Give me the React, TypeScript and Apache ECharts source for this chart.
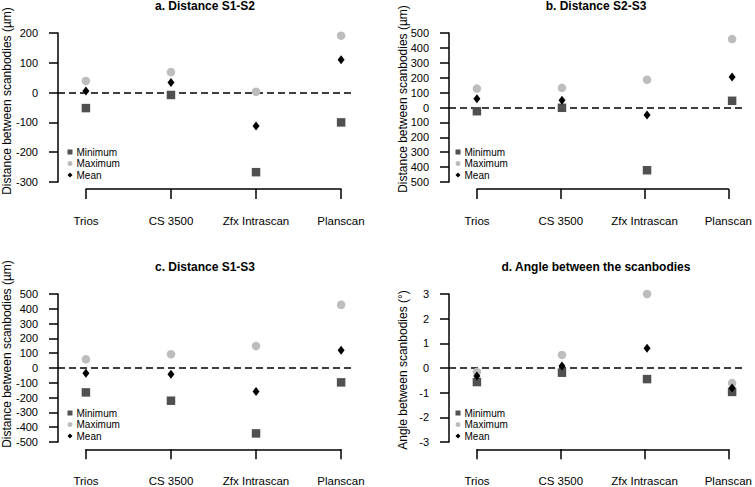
import React, { useEffect, useRef } from "react";
import * as echarts from "echarts";

const categories = ["Trios", "CS 3500", "Zfx Intrascan", "Planscan"];

const s12Min = [-52, -8, -267, -100];
const s12Max = [39, 69, 3, 191];
const s12Mean = [5, 34, -112, 110];

const s23Min = [-25, -2, -421, 45];
const s23Max = [127, 132, 186, 459];
const s23Mean = [58, 49, -51, 204];

const s13Min = [-165, -221, -442, -97];
const s13Max = [59, 93, 149, 427];
const s13Mean = [-36, -43, -158, 120];

const angMin = [-0.57, -0.19, -0.45, -0.97];
const angMax = [-0.16, 0.53, 3.0, -0.61];
const angMean = [-0.32, 0.08, 0.8, -0.81];

const panelTitles = [
  "a. Distance S1-S2",
  "b. Distance S2-S3",
  "c. Distance S1-S3",
  "d. Angle between the scanbodies",
];
const yTitles = [
  "Distance between scanbodies (µm)",
  "Distance between scanbodies (µm)",
  "Distance between scanbodies (µm)",
  "Angle between scanbodies (°)",
];
const yRanges = [
  { min: -300, max: 200, interval: 100 },
  { min: -500, max: 500, interval: 100 },
  { min: -500, max: 500, interval: 100 },
  { min: -3, max: 3, interval: 1 },
];
const legendNames = ["Minimum", "Maximum", "Mean"];

const FONT = '"Liberation Sans", Arial, sans-serif';

export default function App() {
  const ref = useRef<HTMLDivElement>(null);
  useEffect(() => {
    if (!ref.current) return;
    const chart = echarts.init(ref.current, null, { renderer: "svg" });
    const data = [
      [s12Min, s12Max, s12Mean],
      [s23Min, s23Max, s23Mean],
      [s13Min, s13Max, s13Mean],
      [angMin, angMax, angMean],
    ];
    const layout = [
      { left: 58, top: 33, h: 149, axisY: 189, cat1: 86, titleX: 205, titleY: 6, ytX: 7, ytY: 101, legX: 67.5, legY: 147 },
      { left: 449, top: 33, h: 149, axisY: 189, cat1: 477, titleX: 596, titleY: 6, ytX: 403, ytY: 99, legX: 455.5, legY: 147 },
      { left: 58, top: 294, h: 148, axisY: 450, cat1: 86, titleX: 205, titleY: 267, ytX: 7, ytY: 354, legX: 67.5, legY: 408 },
      { left: 449, top: 294, h: 148, axisY: 450, cat1: 477, titleX: 596, titleY: 267, ytX: 403, ytY: 370, legX: 455.5, legY: 408 },
    ];
    const grid: any[] = [];
    const xAxis: any[] = [];
    const yAxis: any[] = [];
    const series: any[] = [];
    const legend: any[] = [];
    const graphic: any[] = [];
    const colors = ["#505050", "#bdbdbd", "#000000"];
    const symbols = ["rect", "circle", "diamond"];
    const sizes: any[] = [8.5, 8.5, [7, 9]];

    layout.forEach((L, i) => {
      grid.push({ left: L.left, top: L.top, width: 294, height: L.h });
      xAxis.push({
        gridIndex: i,
        type: "value",
        min: 0.672,
        max: 4.128,
        show: false,
      });
      const r = yRanges[i];
      yAxis.push({
        gridIndex: i,
        type: "value",
        min: r.min,
        max: r.max,
        interval: r.interval,
        axisLine: { show: true, lineStyle: { color: "#000", width: 1.5 } },
        axisTick: { show: true, length: 9, lineStyle: { color: "#000", width: 1.5 } },
        axisLabel: {
          margin: 20,
          fontSize: 11,
          color: "#000",
          fontFamily: FONT,
          formatter: (v: number) => (i === 1 ? String(Math.abs(v)) : String(v)),
        },
        splitLine: { show: false },
      });
      data[i].forEach((arr, k) => {
        const s: any = {
          name: legendNames[k],
          type: "scatter",
          xAxisIndex: i,
          yAxisIndex: i,
          symbol: symbols[k],
          symbolSize: sizes[k],
          itemStyle: { color: colors[k], opacity: 1 },
          clip: false,
          data: arr.map((v, j) => [j + 1, v]),
          z: 3 + k,
        };
        if (k === 0) {
          s.markLine = {
            silent: true,
            symbol: "none",
            label: { show: false },
            lineStyle: { type: [7, 4], color: "#000", width: 1.5 },
            data: [{ yAxis: 0 }],
            z: 2,
          };
        }
        series.push(s);
      });
      legend.push({
        orient: "vertical",
        left: L.legX,
        top: L.legY,
        padding: 0,
        itemWidth: 5,
        itemHeight: 5,
        itemGap: 1.5,
        selectedMode: false,
        data: legendNames,
        textStyle: { fontSize: 10, lineHeight: 10, color: "#000", fontFamily: FONT, padding: [0, 0, 0, -1] },
      });
      graphic.push({
        type: "text",
        x: L.titleX,
        y: L.titleY,
        style: {
          text: panelTitles[i],
          font: `bold 12px ${FONT}`,
          fill: "#000",
          align: "center",
          verticalAlign: "middle",
          textAlign: "center",
          textVerticalAlign: "middle",
        },
      });
      graphic.push({
        type: "text",
        x: L.ytX,
        y: L.ytY,
        rotation: Math.PI / 2,
        style: {
          text: yTitles[i],
          font: `12px ${FONT}`,
          fill: "#000",
          align: "center",
          verticalAlign: "middle",
          textAlign: "center",
          textVerticalAlign: "middle",
        },
      });
    });

    layout.forEach((L, i) => {
      grid.push({ left: L.cat1, top: L.axisY - 1, width: 255, height: 1 });
      xAxis.push({
        gridIndex: 4 + i,
        type: "value",
        min: 1,
        max: 4,
        interval: 1,
        axisLine: { show: true, lineStyle: { color: "#000", width: 1.5 } },
        axisTick: { show: true, length: 10, lineStyle: { color: "#000", width: 1.5 } },
        axisLabel: {
          margin: 26,
          fontSize: 11.5,
          color: "#000",
          fontFamily: FONT,
          formatter: (v: number) => categories[Math.round(v) - 1] ?? "",
        },
        splitLine: { show: false },
      });
      yAxis.push({ gridIndex: 4 + i, type: "value", min: 0, max: 1, show: false });
    });

    chart.setOption({
      animation: false,
      backgroundColor: "#ffffff",
      textStyle: { fontFamily: FONT },
      grid,
      xAxis,
      yAxis,
      series,
      legend,
      graphic,
    });
    return () => chart.dispose();
  }, []);
  return (
    <div
      ref={ref}
      style={{ position: "fixed", left: 0, top: 0, width: 755, height: 487, background: "#fff" }}
    />
  );
}
